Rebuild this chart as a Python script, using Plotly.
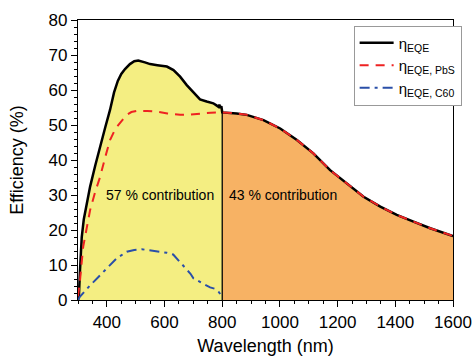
import plotly.graph_objects as go

# ---- data ----
wl_eqe = [300, 303, 307, 313, 320, 330, 342, 360, 376, 395, 411, 425, 438, 450, 463, 480, 495, 509,
          532, 550, 575, 608, 631, 654, 677, 700, 723, 746, 769, 780, 787, 790, 794, 797, 800,
          850, 885, 943, 1001, 1059, 1116, 1174, 1232, 1290, 1348, 1405, 1463, 1521, 1600]
eqe = [0, 1, 8.6, 18, 23, 27.6, 32.4, 38.5, 43.8, 49.5, 54.3, 59.3, 62.6, 64.6, 66.0, 67.4, 68.2, 68.4,
       67.9, 67.4, 67.1, 66.7, 65.7, 63.8, 61.4, 59.2, 57.3, 56.7, 56.2, 55.6, 55.2, 55.8, 54.8, 55.4, 53.6,
       53.3, 52.9, 51.4, 49, 45.7, 41.9, 37.1, 33.3, 29.5, 26.7, 24.3, 22.4, 20.5, 18.3]

wl_pbs = [300, 303, 307, 318, 330, 342, 360, 376, 395, 411, 430, 446, 469, 485, 503, 540, 573,
          610, 654, 690, 723, 760, 792, 800,
          850, 885, 943, 1001, 1059, 1116, 1174, 1232, 1290, 1348, 1405, 1463, 1521, 1600]
pbs = [1, 3, 5.7, 15.2, 21, 25.7, 31, 35, 41, 45.7, 49, 50.5, 52.9, 53.7, 54, 54, 53.8,
       53.3, 52.9, 53, 53.3, 53.5, 53.6, 53.6,
       53.3, 52.9, 51.4, 49, 45.7, 41.9, 37.1, 33.3, 29.5, 26.7, 24.3, 22.4, 20.5, 18.3]

wl_c60 = [300, 307, 340, 376, 410, 434, 469, 495, 521, 550, 573, 608, 630, 642, 660, 677,
          690, 700, 723, 740, 758, 775, 787, 795, 800]
c60 = [0, 1, 4, 7.1, 10, 11.9, 13.8, 14.3, 14.5, 14.2, 13.8, 13.5, 13, 11.9, 10.5, 9,
       7.5, 6.2, 5.2, 4.4, 3.6, 3.2, 2.4, 1.5, 1.2]

split_wl = 800
labels = ["57 % contribution", "43 % contribution"]
label_pos = [(585, 30), (1010, 30)]

x_ticks = [400, 600, 800, 1000, 1200, 1400, 1600]
y_ticks = [0, 10, 20, 30, 40, 50, 60, 70, 80]

# ---- build ----
vis_x = [w for w in wl_eqe if w <= split_wl]
vis_y = [v for w, v in zip(wl_eqe, eqe) if w <= split_wl]
nir_x = [w for w in wl_eqe if w >= split_wl]
nir_y = [v for w, v in zip(wl_eqe, eqe) if w >= split_wl]
split_val = eqe[wl_eqe.index(split_wl)]

fig = go.Figure()
fig.add_trace(go.Scatter(x=vis_x, y=vis_y, fill="tozeroy", fillcolor="#F4EE82",
                         mode="none", showlegend=False, hoverinfo="skip"))
fig.add_trace(go.Scatter(x=nir_x, y=nir_y, fill="tozeroy", fillcolor="#F7B264",
                         mode="none", showlegend=False, hoverinfo="skip"))
fig.add_trace(go.Scatter(x=[split_wl, split_wl], y=[0, split_val], mode="lines",
                         line=dict(color="black", width=1.3), showlegend=False))
fig.add_trace(go.Scatter(x=wl_eqe, y=eqe, mode="lines", name="η<sub>EQE</sub>",
                         line=dict(color="black", width=2.5)))
fig.add_trace(go.Scatter(x=wl_pbs, y=pbs, mode="lines", name="η<sub>EQE, PbS</sub>",
                         line=dict(color="#EE2222", width=2, dash="9px,7px")))
fig.add_trace(go.Scatter(x=wl_c60, y=c60, mode="lines", name="η<sub>EQE, C60</sub>",
                         line=dict(color="#2A4FA8", width=2, dash="10px,5px,3px,5px")))

for t, (x, y) in zip(labels, label_pos):
    fig.add_annotation(x=x, y=y, text=t, showarrow=False,
                       font=dict(size=14, color="black"))

axis_common = dict(showline=True, linecolor="black", linewidth=1.3, mirror=True,
                   ticks="outside", tickcolor="black", ticklen=6, tickwidth=1.3,
                   showgrid=False, zeroline=False, automargin=False,
                   tickfont=dict(size=17, color="black"))

fig.update_xaxes(range=[300, 1600], tickvals=x_ticks,
                 minor=dict(dtick=50, ticks="outside", ticklen=3, tickcolor="black",
                            showgrid=False),
                 title=dict(text="Wavelength (nm)", font=dict(size=18, color="black"),
                            standoff=12),
                 **axis_common)
fig.update_yaxes(range=[0, 80], tickvals=y_ticks,
                 minor=dict(dtick=2, ticks="outside", ticklen=3, tickcolor="black",
                            showgrid=False),
                 title=dict(text="Efficiency (%)", font=dict(size=18, color="black"),
                            standoff=20),
                 **axis_common)

fig.update_layout(
    width=475, height=356,
    margin=dict(l=78, r=22, t=20, b=56),
    paper_bgcolor="white", plot_bgcolor="white",
    font=dict(family="Liberation Sans, Arial, sans-serif", color="black"),
    legend=dict(x=0.735, y=0.98, xanchor="left", yanchor="top",
                bgcolor="white", bordercolor="#999999", borderwidth=1,
                font=dict(size=15), tracegroupgap=0, itemwidth=34),
)

fig.write_html("out.html")
